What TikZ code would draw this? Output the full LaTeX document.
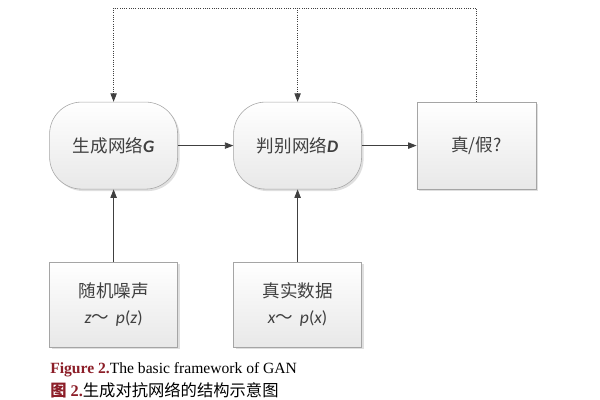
\documentclass[tikz,border=0pt]{standalone}
\usepackage{fontspec}
\setmainfont{Liberation Serif}
\newfontfamily\cjk{Noto Sans CJK SC}
\newfontfamily\carl{Carlito}
\usetikzlibrary{arrows.meta,shadows}
\definecolor{linegray}{RGB}{165,165,165}
\definecolor{arrowgray}{RGB}{64,64,64}
\definecolor{figred}{RGB}{140,30,40}

\begin{document}
\begin{tikzpicture}[
    netnode/.style={draw=linegray, rounded corners=0.8cm, top color=white, bottom color=gray!18,
        drop shadow={opacity=0.25, shadow xshift=0.05cm, shadow yshift=-0.05cm},
        minimum width=3.2cm, minimum height=2.175cm, font=\fontsize{12.5}{16}\selectfont, text=black!75},
    boxnode/.style={netnode, rounded corners=0pt, align=center},
    flow/.style={draw=arrowgray, semithick, -{Triangle[length=6pt,width=4.5pt]}},
    fb/.style={flow, densely dotted}]

   \useasboundingbox (0,0) rectangle (15,10);

   % upper row
   \node [netnode] (G) at (2.84,6.36) {{\cjk 生成网络}{\carl\bfseries\itshape G}};
   \node [netnode] (D) at (7.44,6.36) {{\cjk 判别网络}{\carl\bfseries\itshape D}};
   \node [boxnode, minimum width=2.975cm] (V) at (11.91,6.36) {\cjk 真/假?};

   % inputs
   \foreach \n/\x/\t/\v in {Z/2.84/随机噪声/z, X/7.44/真实数据/x}
     \node [boxnode, minimum height=2.125cm]
        (\n) at (\x,2.39) {{\cjk \t}\\[2pt]{\carl\itshape \v}{\cjk ～}{\carl\itshape\, p}{\carl(}{\carl\itshape \v}{\carl)}};

   \coordinate (top) at (7.44,9.8);

   \draw [flow] (G) -- (D);
   \draw [flow] (D) -- (V);
   \foreach \i/\j in {Z/G, X/D}
     \draw [flow] (\i) -- (\j);

   % feedback
   \draw [fb] (V.north) -- (V.north |- top) -- (G.north |- top) -- (G.north);
   \draw [fb] (D.north |- top) -- (D.north);

   % caption
   \node [anchor=west, inner sep=0pt, font=\fontsize{11.1}{13}\selectfont] (cap1) at (1.25,0.76)
     {\textcolor{figred}{\bfseries Figure 2.}The basic framework of GAN};
   \node [anchor=west, inner sep=0pt, font=\fontsize{11.6}{13}\selectfont] (cap2) at (1.25,0.24)
     {\textcolor{figred}{\bfseries{\cjk 图} 2.}{\cjk 生成对抗网络的结构示意图}};

\end{tikzpicture}
\end{document}
